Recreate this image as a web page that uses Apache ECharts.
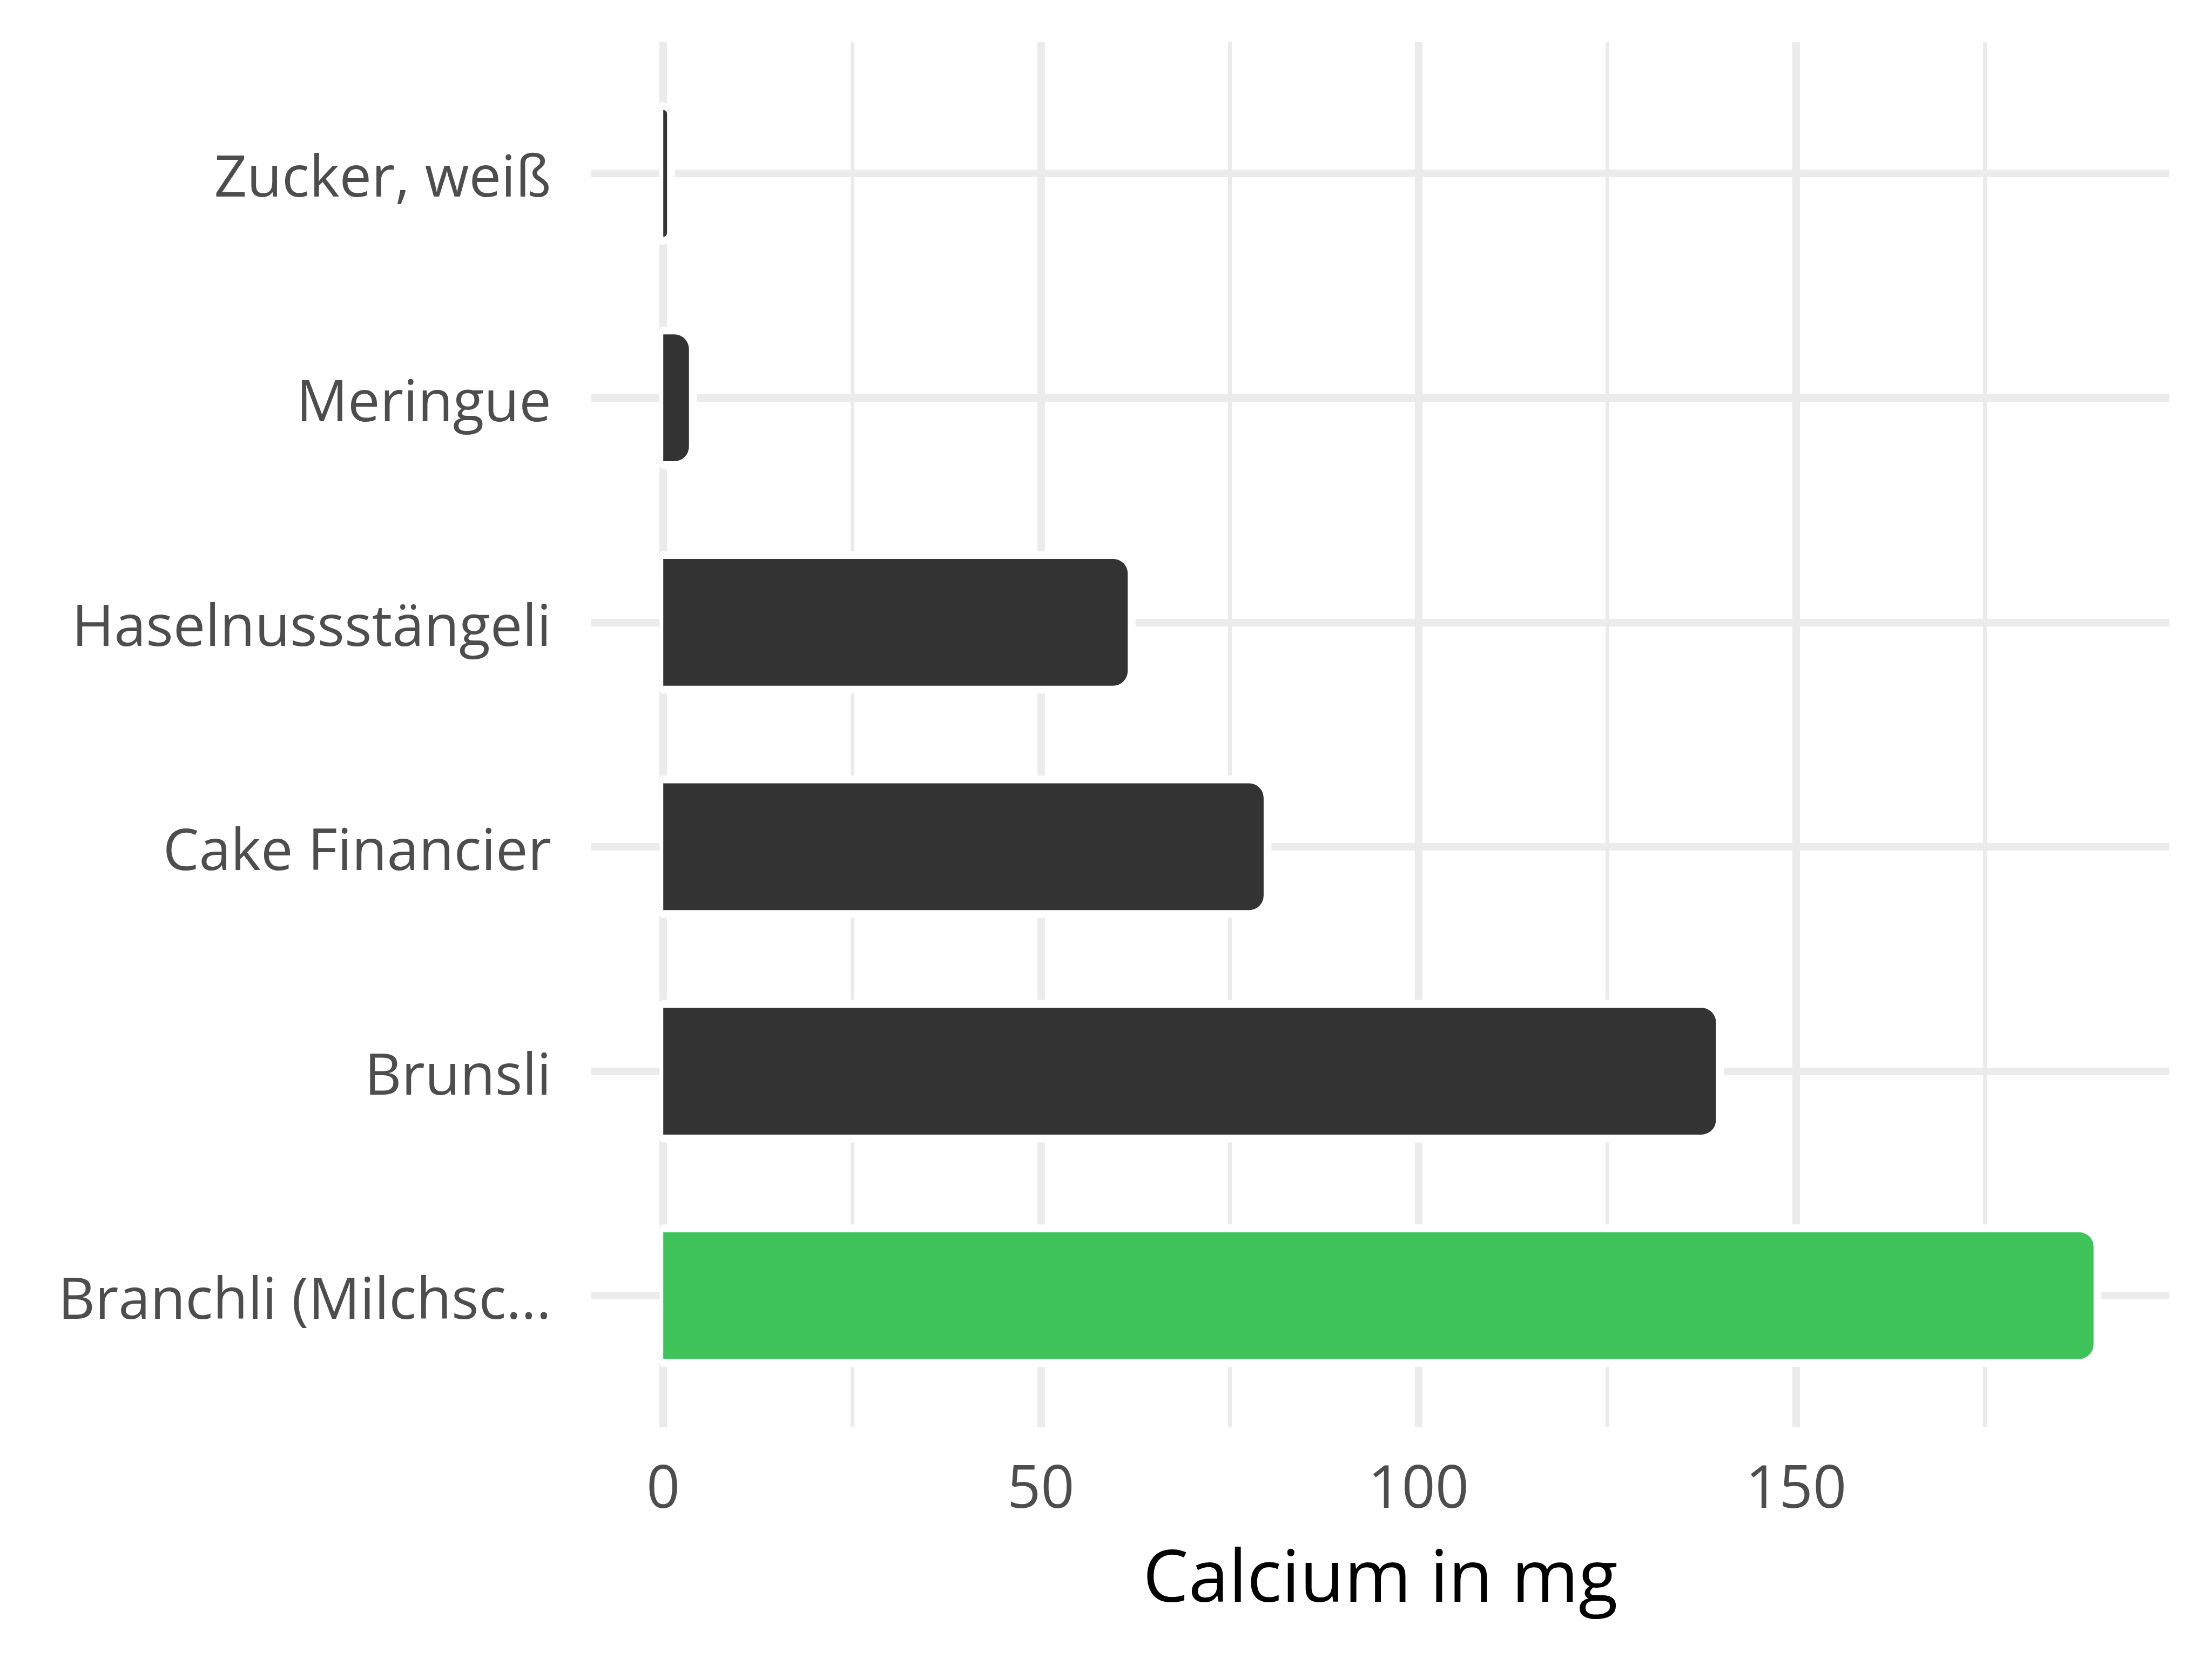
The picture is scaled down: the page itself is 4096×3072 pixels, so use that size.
<!DOCTYPE html>
<html>
<head>
<meta charset="utf-8">
<script src="https://cdn.jsdelivr.net/npm/echarts@6/dist/echarts.min.js"></script>
<style>
html,body{margin:0;padding:0;background:#fff;}
#chart{width:4096px;height:3072px;}
</style>
</head>
<body>
<div id="chart"></div>
<script>
// ---- data (top to bottom as shown) ----
const categories = ['Zucker, weiß', 'Meringue', 'Haselnussstängeli', 'Cake Financier', 'Brunsli', 'Branchli (Milchsc...'];
const calciumMg = [0.5, 3.4, 61.5, 79.5, 139.4, 189.4];
const highlighted = 'Branchli (Milchsc...';
const xTicksMajor = [0, 50, 100, 150];
const xTicksMinor = [25, 75, 125, 175];
const xTitle = 'Calcium in mg';

// ---- layout ----
const W = 4096, H = 3072;
const PL = 1094.8, PR = 4017.2, PT = 77.7, PB = 2642.5;   // panel
const XMIN = -9.54, XMAX = 199.45;
const pxPerUnit = (PR - PL) / (XMAX - XMIN);
const xAt = v => PL + (v - XMIN) * pxPerUnit;
const nCat = categories.length;
const band = (PB - PT) / (nCat + 1.2);
const BAR_FRAC = 0.565;
const GRID_COL = '#EBEBEB';
const FONT = 'Open Sans';
const HALO = 14.5;

const chart = echarts.init(document.getElementById('chart'), null, {renderer: 'canvas'});

const hidden = {show: false};
const option = {
  backgroundColor: '#ffffff',
  animation: false,
  grid: [
    // 0 panel (axis title)
    {left: PL, right: W - PR, top: PT, bottom: H - PB},
    // 1 major vertical grid lines + tick labels
    {left: xAt(xTicksMajor[0]), right: W - xAt(xTicksMajor[xTicksMajor.length - 1]), top: PT, bottom: H - PB},
    // 2 minor vertical grid lines
    {left: xAt(xTicksMinor[0]), right: W - xAt(xTicksMinor[xTicksMinor.length - 1]), top: PT, bottom: H - PB},
    // 3 bars
    {left: PL, right: W - PR, top: PT + 0.1 * band, bottom: H - (PB - 0.1 * band)}
  ],
  xAxis: [
    {gridIndex: 0, type: 'value', min: XMIN, max: XMAX,
     axisLine: hidden, axisTick: hidden, axisLabel: hidden, splitLine: hidden,
     name: xTitle, nameLocation: 'middle', nameGap: 218,
     nameTextStyle: {fontFamily: FONT, fontSize: 134, color: '#000000'}},
    {gridIndex: 1, type: 'value', min: xTicksMajor[0], max: xTicksMajor[xTicksMajor.length - 1], interval: 50,
     axisLine: hidden, axisTick: hidden,
     axisLabel: {show: true, margin: 64, fontFamily: FONT, fontSize: 109, color: '#4D4D4D'},
     splitLine: {show: true, lineStyle: {color: GRID_COL, width: 14.2}}},
    {gridIndex: 2, type: 'value', min: xTicksMinor[0], max: xTicksMinor[xTicksMinor.length - 1], interval: 50,
     axisLine: hidden, axisTick: hidden, axisLabel: hidden,
     splitLine: {show: true, lineStyle: {color: GRID_COL, width: 7}}},
    {gridIndex: 3, type: 'value', min: XMIN, max: XMAX,
     axisLine: hidden, axisTick: hidden, axisLabel: hidden, splitLine: hidden}
  ],
  yAxis: [
    {gridIndex: 0, type: 'value', min: 0, max: 1, show: false},
    {gridIndex: 1, type: 'value', min: 0, max: 1, show: false},
    {gridIndex: 2, type: 'value', min: 0, max: 1, show: false},
    {gridIndex: 3, type: 'category', data: categories, inverse: true,
     axisLine: hidden, axisTick: hidden, splitLine: hidden,
     axisLabel: {show: true, margin: 74, fontFamily: FONT, fontSize: 106, color: '#4D4D4D',
                 verticalAlign: 'top', lineHeight: 26}}
  ],
  series: [
    {
      type: 'custom',
      name: 'halo',
      xAxisIndex: 3, yAxisIndex: 3,
      z: 1, silent: true,
      data: calciumMg.map((v, i) => [v, i]),
      encode: {x: 0, y: 1},
      renderItem: function (params, api) {
        const v = api.value(0), c = api.value(1);
        const p0 = api.coord([0, c]);
        const p1 = api.coord([v, c]);
        const h = api.size([0, 1])[1] * BAR_FRAC;
        return {
          type: 'rect',
          shape: {x: p0[0] - 7, y: p0[1] - h / 2 - HALO, width: (p1[0] - p0[0]) + 7 + HALO, height: h + 2 * HALO, r: [7, 27 + HALO, 27 + HALO, 7]},
          style: {fill: '#ffffff'}
        };
      },
      markLine: {
        silent: true,
        z: 0,
        symbol: ['none', 'none'],
        label: {show: false},
        emphasis: {disabled: true},
        lineStyle: {color: GRID_COL, width: 14.2, type: 'solid'},
        data: categories.map(c => ({yAxis: c}))
      }
    },
    {
      type: 'bar',
      name: xTitle,
      xAxisIndex: 3, yAxisIndex: 3,
      z: 2,
      barWidth: (BAR_FRAC * 100) + '%',
      data: calciumMg.map((v, i) => ({
        value: v,
        itemStyle: {color: categories[i] === highlighted ? '#3EC35A' : '#333333'}
      })),
      itemStyle: {borderRadius: [0, 27, 27, 0]}
    }
  ]
};
chart.setOption(option);
</script>
</body>
</html>
